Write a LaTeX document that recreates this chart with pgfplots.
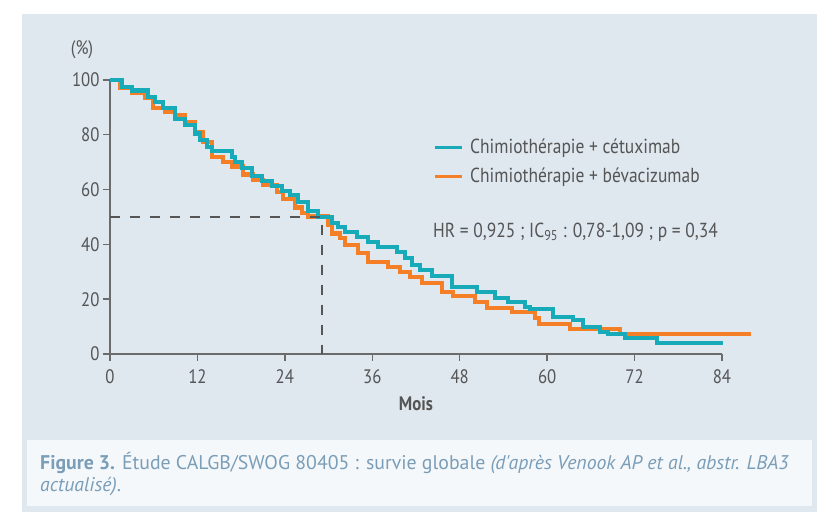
\documentclass[border=0pt]{standalone}
\usepackage{fontspec}
\setmainfont{PT Sans}[FakeStretch=0.86]
\newfontfamily\capfont{PT Sans}
\usepackage{pgfplots}
\pgfplotsset{compat=1.18}
\definecolor{panel}{HTML}{DFE7EF}
\definecolor{capbox}{HTML}{F5F8FA}
\definecolor{cetux}{HTML}{17AAB9}
\definecolor{beva}{HTML}{F47F26}
\definecolor{axgray}{HTML}{6B6B6B}
\definecolor{txt}{HTML}{555555}
\definecolor{captxt}{HTML}{7A9DB8}
\begin{document}
\begin{tikzpicture}[x=1pt,y=1pt]
  \fill[white] (0,0) rectangle (823,517);
  \fill[panel] (22,5) rectangle (817,503);
  \fill[capbox] (27,11) rectangle (812,77);
  \begin{axis}[at={(110pt,163pt)}, anchor=south west,
      scale only axis, width=612pt, height=274pt,
      xmin=0, xmax=84, ymin=0, ymax=100, enlargelimits=false, clip=false,
      axis x line=bottom, axis y line=left,
      axis line style={-, draw=axgray, line width=1.6pt},
      xtick={0,12,...,84}, ytick={0,20,...,100},
      tick align=outside, major tick length=7pt,
      tick style={draw=axgray, line width=1.4pt},
      ticklabel style={font=\fontsize{19.5}{22}\selectfont, text=txt},
      xticklabel style={yshift=-5pt},
      /pgf/number format/assume math mode=true]
    % Chimiotherapie + bevacizumab
    \addplot[const plot, beva, line width=4.2pt] coordinates {
      (0,100) (1.4,97.2) (3,95.3) (4.8,93.3) (5.9,89.8) (7.5,88.2) (8.9,87.2)
      (10.3,84.5) (11.7,81) (12.8,77.5) (14,72) (15.5,70.2) (16.7,68.4)
      (18.3,65.5) (19.6,63.6) (21,61.8) (22.9,59) (23.7,56.5) (25.4,53.5)
      (26.3,51.6) (27.2,50.2) (29.9,47) (30.5,44) (31.6,42.3) (32.3,39.8)
      (34,36.9) (35.4,33.6) (38.2,31.8) (39.8,29.9) (41.2,28.1) (42.8,25.9)
      (45.6,22.6) (47.1,21.2) (50.1,19) (51.7,16.8) (55.2,15.3) (58.3,13.1)
      (58.9,10.9) (63.1,9.1) (70,7.3) (88,7.3)};
    % Chimiotherapie + cetuximab
    \addplot[const plot, cetux, line width=4.2pt] coordinates {
      (0,100) (1.6,97.5) (3,96.2) (5.2,93.8) (6.2,92) (7.3,89.8) (8.9,85.8)
      (10.3,83.5) (11.7,80.5) (12.4,78.2) (13.3,75.5) (14,74) (16.7,71.8)
      (17.2,70) (18.1,68) (19.5,65) (20.9,63) (22.2,61.2) (23.6,59.4)
      (24.7,58) (25.8,55.4) (27.2,52.2) (28.5,50) (30.5,47.8) (31.3,46.4)
      (32.3,44.5) (33.9,42.7) (35.4,40.9) (36.8,39) (39.4,37.2) (40.5,35)
      (41.4,32.5) (42.5,30.7) (44.2,28.4) (46.9,24.5) (50.4,22.6) (52.8,20.4)
      (54.6,19) (57,17.2) (57.6,16.4) (60.8,13.5) (63.5,12.4) (64.9,9.9)
      (67.3,8) (68.4,7.3) (70.7,5.8) (75.1,4) (84.1,4)};
    % median
    \addplot[txt, line width=2pt, dash pattern=on 10pt off 10pt] coordinates {(0,50) (29.1,50) (29.1,0)};
  \end{axis}
  \node[text=txt, font=\fontsize{19.5}{22}\selectfont] at (82,467) {(\%)};
  \node[text=txt, font=\fontsize{19.5}{22}\selectfont\bfseries] at (416,113) {Mois};
  \draw[cetux, line width=3pt] (435,369) -- (462,369);
  \draw[beva, line width=3pt] (435,340) -- (462,340);
  \node[anchor=west, text=txt, font=\fontsize{20.3}{23}\selectfont, inner sep=0pt] at (470,369) {Chimiothérapie + cétuximab};
  \node[anchor=west, text=txt, font=\fontsize{20.3}{23}\selectfont, inner sep=0pt] at (470,340) {Chimiothérapie + bévacizumab};
  \node[anchor=west, text=txt, font=\fontsize{20.3}{23}\selectfont, inner sep=0pt] at (433,285) {HR = 0,925 ; IC\textsubscript{95} : 0,78-1,09 ; p = 0,34};
  \node[anchor=base west, text=captxt, font=\capfont\fontsize{19.8}{23}\selectfont, inner sep=0pt] at (40,47)
    {\textbf{Figure 3.} Étude CALGB/SWOG 80405 : survie globale \textit{(d'après Venook AP et al., abstr. LBA3}};
  \node[anchor=base west, text=captxt, font=\capfont\fontsize{19.8}{23}\selectfont, inner sep=0pt] at (40,25)
    {\textit{actualisé)}.};
\end{tikzpicture}
\end{document}
